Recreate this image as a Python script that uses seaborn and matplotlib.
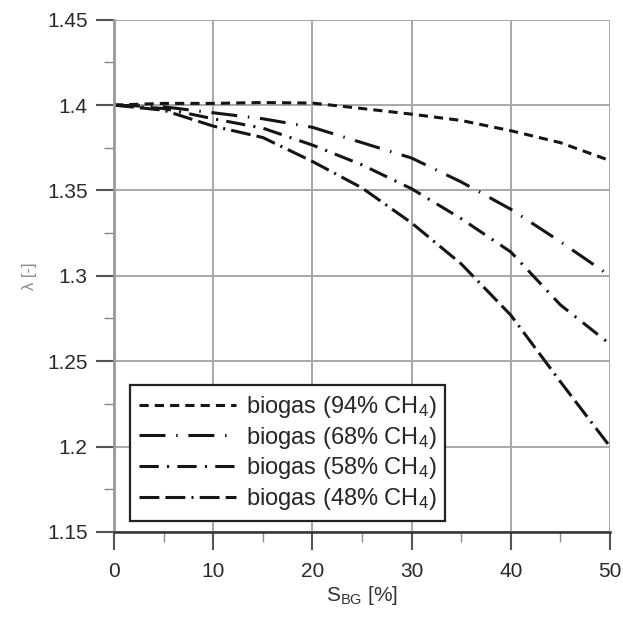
import matplotlib
matplotlib.use("Agg")
import matplotlib.pyplot as plt
import seaborn as sns
import pandas as pd
from matplotlib.ticker import MultipleLocator

x = [0, 5, 10, 15, 20, 25, 30, 35, 40, 45, 50]
ch4_94 = [1.400, 1.401, 1.401, 1.4015, 1.4012, 1.398, 1.3947, 1.391, 1.385, 1.378, 1.3675]
ch4_68 = [1.400, 1.399, 1.3955, 1.392, 1.387, 1.378, 1.369, 1.355, 1.339, 1.320, 1.300]
ch4_58 = [1.400, 1.398, 1.392, 1.3865, 1.3766, 1.365, 1.351, 1.3335, 1.314, 1.283, 1.260]
ch4_48 = [1.400, 1.397, 1.3877, 1.381, 1.367, 1.3515, 1.331, 1.307, 1.277, 1.238, 1.200]
labels = ["biogas (94% CH$_4$)", "biogas (68% CH$_4$)", "biogas (58% CH$_4$)", "biogas (48% CH$_4$)"]

df = pd.DataFrame({
    "S": x * 4,
    "lam": ch4_94 + ch4_68 + ch4_58 + ch4_48,
    "series": sum([[l] * len(x) for l in labels], []),
})

sns.set_theme(style="whitegrid")
plt.rcParams['font.family'] = ['Liberation Sans', 'DejaVu Sans']
plt.rcParams['mathtext.fontset'] = 'custom'
plt.rcParams['mathtext.rm'] = 'Liberation Sans'
plt.rcParams['mathtext.it'] = 'Liberation Sans'

fig = plt.figure(figsize=(6.23, 6.17), dpi=100)
ax = fig.add_axes([0.183, 0.138, 0.796, 0.830])

dashes = {labels[0]: (3, 2),
          labels[1]: (8.5, 3.5, 0.5, 3.5),
          labels[2]: (6.3, 2.7, 0.7, 2.7),
          labels[3]: (6.5, 2, 6.5, 2, 0.7, 2)}
sns.lineplot(data=df, x="S", y="lam", hue="series", style="series", dashes=dashes,
             palette=["#151515"] * 4, ax=ax, legend=True, linewidth=2.2)

ax.set_xlim(0, 50)
ax.set_ylim(1.15, 1.45)
ax.xaxis.set_major_locator(MultipleLocator(10))
ax.xaxis.set_minor_locator(MultipleLocator(5))
ax.yaxis.set_minor_locator(MultipleLocator(0.025))
ax.set_yticks([1.15, 1.2, 1.25, 1.3, 1.35, 1.4, 1.45])
ax.set_yticklabels(["1.15", "1.2", "1.25", "1.3", "1.35", "1.4", "1.45"])
ax.grid(True, which="major", color="#a8a8a8", linewidth=1.4)
ax.grid(False, which="minor")
ax.set_facecolor("white")
for s in ["top", "right"]:
    ax.spines[s].set_visible(False)
ax.spines["left"].set_color("#999999")
ax.spines["left"].set_linewidth(2.0)
ax.spines["bottom"].set_color("#333333")
ax.spines["bottom"].set_linewidth(1.8)
ax.tick_params(which="major", direction="out", length=13, width=1.5, color="#555555",
               labelsize=15, labelcolor="#2a2a2a", bottom=True, left=True)
ax.tick_params(axis="x", which="major", pad=9)
ax.tick_params(axis="y", which="major", pad=6)
ax.tick_params(which="minor", direction="out", length=7, width=1.0, color="#888888",
               bottom=True, left=True)
ax.set_xlabel("S$_{\\mathrm{BG}}$ [%]", fontsize=15, color="#333333", labelpad=2)
ax.set_ylabel("λ [-]", fontsize=12, color="#888888", labelpad=7)

h, l = ax.get_legend_handles_labels()
leg = ax.legend(h, l, loc="lower left", bbox_to_anchor=(0.032, 0.021), borderaxespad=0,
                fontsize=17, frameon=True, fancybox=False, edgecolor="#222222", framealpha=1,
                handlelength=4.1, handletextpad=0.42, borderpad=0.38, labelspacing=0.2)
leg.get_frame().set_linewidth(1.6)

fig.savefig("out.png", dpi=100)
